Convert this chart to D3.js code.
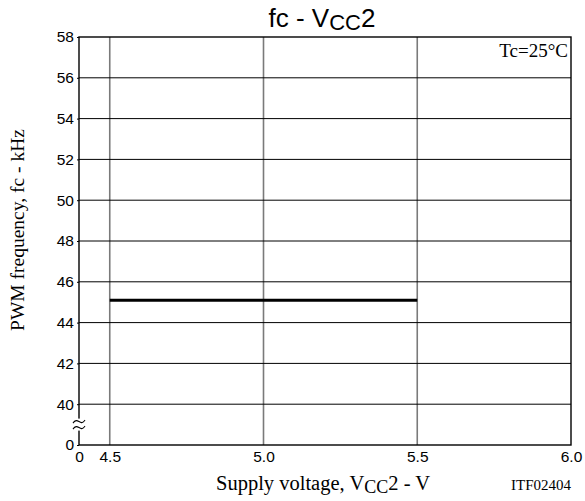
<!DOCTYPE html>
<html>
<head>
<meta charset="utf-8">
<script src="https://cdn.jsdelivr.net/npm/d3@7"></script>
<style>
  html, body { margin: 0; padding: 0; background: #fff; }
  svg { display: block; }
</style>
</head>
<body>
<svg id="chart" width="585" height="501"></svg>
<script>
// PWM frequency vs. supply voltage VCC2 (Tc = 25°C)
const voltage = [4.5, 5.5];          // V
const frequency = [45.1, 45.1];      // kHz
const xTickValues = [4.5, 5.0, 5.5, 6.0];
const yTickValues = [40, 42, 44, 46, 48, 50, 52, 54, 56, 58];
const xBreakValue = 4.4;   // axis origin shown as "0" (broken axis)
const yBreakValue = 38;    // axis origin shown as "0" (broken axis)

const svg = d3.select("#chart");
const plotLeft = 79, plotRight = 571, plotTop = 37, plotBottom = 445;

const x = d3.scaleLinear().domain([xBreakValue, 6.0]).range([plotLeft, plotRight]);
const y = d3.scaleLinear().domain([yBreakValue, 58]).range([plotBottom, plotTop]);

const sans = "'Liberation Sans', Arial, sans-serif";
const serif = "'Liberation Serif', 'Times New Roman', serif";

// grid: vertical lines grey, horizontal lines black
svg.append("g").selectAll("line").data(xTickValues.filter(v => v < 6.0)).join("line")
  .attr("x1", d => x(d)).attr("x2", d => x(d))
  .attr("y1", plotTop).attr("y2", plotBottom)
  .attr("stroke", "#7a7a7a").attr("stroke-width", 1.6);

svg.append("g").selectAll("line").data(yTickValues.filter(v => v < 58)).join("line")
  .attr("x1", plotLeft).attr("x2", plotRight)
  .attr("y1", d => y(d)).attr("y2", d => y(d))
  .attr("stroke", "#000").attr("stroke-width", 1);

// frame
svg.append("rect")
  .attr("x", plotLeft).attr("y", plotTop)
  .attr("width", plotRight - plotLeft).attr("height", plotBottom - plotTop)
  .attr("fill", "none").attr("stroke", "#000").attr("stroke-width", 1.4);

// axes (labels only; frame drawn above)
const yAxis = d3.axisLeft(y)
  .tickValues([yBreakValue].concat(yTickValues))
  .tickFormat(d => d === yBreakValue ? "0" : d3.format("d")(d))
  .tickSize(2).tickPadding(3);
const gy = svg.append("g").attr("transform", `translate(${plotLeft},0)`).call(yAxis);

const xAxis = d3.axisBottom(x)
  .tickValues([xBreakValue].concat(xTickValues))
  .tickFormat(d => d === xBreakValue ? "0" : d3.format(".1f")(d))
  .tickSize(0).tickPadding(6);
const gx = svg.append("g").attr("transform", `translate(0,${plotBottom})`).call(xAxis);

[gx, gy].forEach(g => {
  g.select(".domain").remove();
  g.selectAll(".tick line").attr("stroke", "#000");
  g.selectAll(".tick text").attr("font-family", sans).attr("font-size", 15.5).attr("fill", "#000");
});

// axis break mark between 0 and 40
const by = (y(yBreakValue) + y(40)) / 2;
svg.append("rect").attr("x", plotLeft - 2).attr("y", by - 6).attr("width", 4).attr("height", 12).attr("fill", "#fff");
const wave = d3.line().curve(d3.curveBasis);
[-3, 3].forEach(off => {
  svg.append("path")
    .attr("d", wave([[plotLeft - 6, by + off + 1.5], [plotLeft - 3, by + off - 2.5], [plotLeft + 3, by + off + 2.5], [plotLeft + 6, by + off - 1.5]]))
    .attr("fill", "none").attr("stroke", "#000").attr("stroke-width", 1.1);
});

// data line
svg.append("path")
  .datum(voltage.map((v, i) => [v, frequency[i]]))
  .attr("d", d3.line().x(d => x(d[0])).y(d => y(d[1])))
  .attr("fill", "none").attr("stroke", "#000").attr("stroke-width", 3);

// title
const title = svg.append("text")
  .attr("x", 322).attr("y", 27)
  .attr("text-anchor", "middle")
  .attr("font-family", sans).attr("font-size", 26).attr("fill", "#000");
title.append("tspan").text("fc - V");
title.append("tspan").attr("font-size", 22).attr("dy", 3).text("CC");
title.append("tspan").attr("dy", -3).text("2");

// condition note
svg.append("text")
  .attr("x", plotRight - 3).attr("y", 57)
  .attr("text-anchor", "end")
  .attr("font-family", serif).attr("font-size", 19).attr("fill", "#000")
  .text("Tc=25°C");

// x-axis title
const xl = svg.append("text")
  .attr("x", 323).attr("y", 490)
  .attr("text-anchor", "middle")
  .attr("font-family", serif).attr("font-size", 20.5).attr("fill", "#000");
xl.append("tspan").text("Supply voltage, V");
xl.append("tspan").attr("font-size", 18).attr("dy", 3).text("CC");
xl.append("tspan").attr("dy", -3).text("2 - V");

// y-axis title
svg.append("text")
  .attr("transform", `translate(24,230) rotate(-90)`)
  .attr("text-anchor", "middle")
  .attr("font-family", serif).attr("font-size", 19.5).attr("fill", "#000")
  .text("PWM frequency, fc - kHz");

// figure id
svg.append("text")
  .attr("x", plotRight).attr("y", 490)
  .attr("text-anchor", "end")
  .attr("font-family", serif).attr("font-size", 15).attr("fill", "#000")
  .text("ITF02404");
</script>
</body>
</html>
